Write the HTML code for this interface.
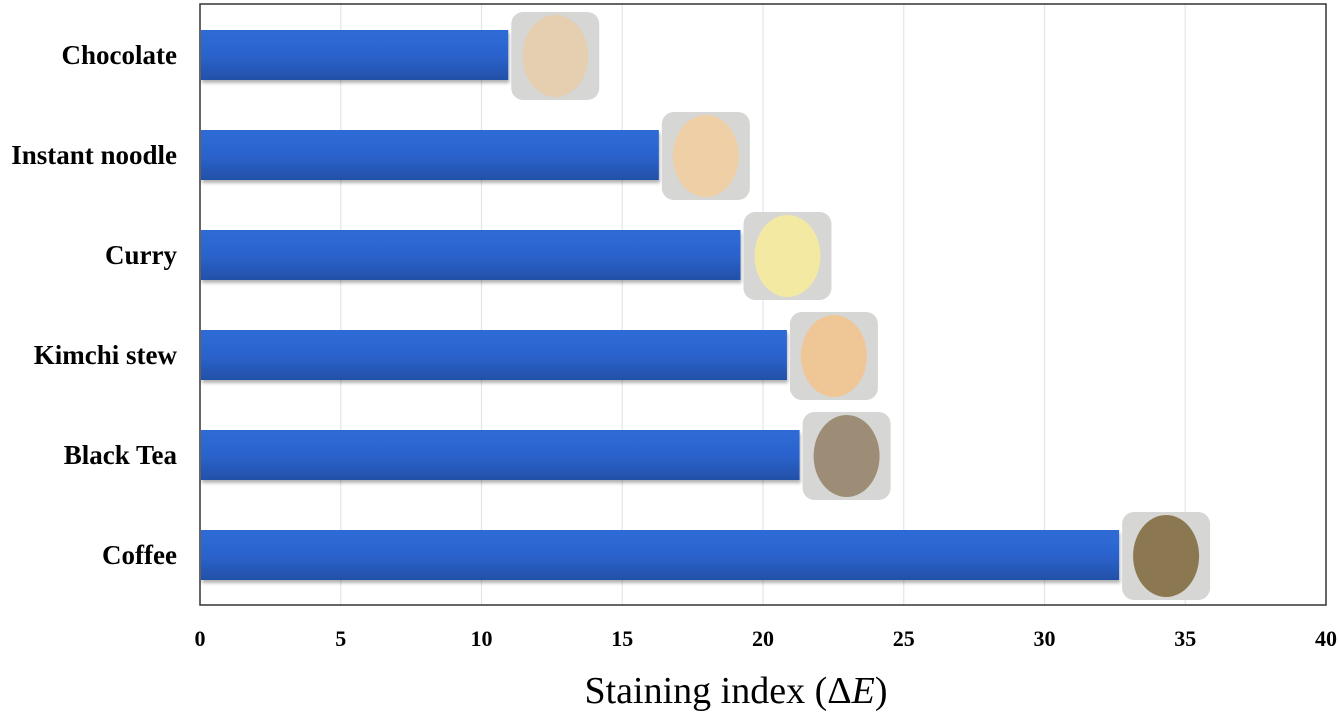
<!DOCTYPE html>
<html><head><meta charset="utf-8"><style>
html,body{margin:0;padding:0;background:#fff;}
svg{display:block;}
</style></head><body>
<svg id="chart" width="1339" height="712" viewBox="0 0 1339 712" xmlns="http://www.w3.org/2000/svg">
<defs>
<linearGradient id="barGrad" x1="0" y1="0" x2="0" y2="1">
<stop offset="0" stop-color="#2f6bd6"/>
<stop offset="0.5" stop-color="#2b63cc"/>
<stop offset="1" stop-color="#2350a8"/>
</linearGradient>
<filter id="shadow" x="-5%" y="-20%" width="110%" height="150%">
<feDropShadow dx="1" dy="3" stdDeviation="1.5" flood-color="#000" flood-opacity="0.3"/>
</filter>
</defs>
<g id="grid"></g>
<g id="bars"></g>
<g id="thumbs"></g>
<rect x="200" y="4" width="1126" height="601" fill="none" stroke="#333" stroke-width="1.5"/>
<g id="ylabels"></g>
<g id="xlabels"></g>
<text x="736" y="703" text-anchor="middle" font-family="Liberation Serif, serif" font-size="38">Staining index (Δ<tspan font-style="italic">E</tspan>)</text>
</svg>
<script>
const categories = ["Chocolate","Instant noodle","Curry","Kimchi stew","Black Tea","Coffee"];
const values = [10.95,16.3,19.2,20.85,21.3,32.65];
const sampleColors = ["#e6ceb0","#efcfa6","#f3e9a2","#efc797","#9d8d76","#8c7850"];
const xTicks = [0,5,10,15,20,25,30,35,40];

const NS="http://www.w3.org/2000/svg";
const x0=200,x1=1326,xmax=40;
function xs(v){return x0+(v/xmax)*(x1-x0);}
function yc(i){return 55+i*100;}
function mk(tag,attrs,parent){const e=document.createElementNS(NS,tag);for(const k in attrs)e.setAttribute(k,attrs[k]);parent.appendChild(e);return e;}
const grid=document.getElementById('grid'),bars=document.getElementById('bars'),thumbs=document.getElementById('thumbs'),yl=document.getElementById('ylabels'),xl=document.getElementById('xlabels');
xTicks.forEach(t=>{
  if(t>0&&t<xmax){const g=mk('line',{x1:xs(t),x2:xs(t),y1:4,y2:605,stroke:'#dfe6ea','stroke-width':1.2},grid);
  
  }
  const tx=mk('text',{x:xs(t),y:646,'text-anchor':'middle','font-family':'Liberation Serif, serif','font-weight':'bold','font-size':22},xl);
  tx.textContent=t;
  
  
});
categories.forEach((c,i)=>{
  const y=yc(i);
  const b=mk('rect',{x:x0+1,y:y-25,width:xs(values[i])-x0-1,height:50,fill:'url(#barGrad)',filter:'url(#shadow)'},bars);
  
  
  const tx0=xs(values[i])+3;
  const g=mk('g',{},thumbs);
  
  
  mk('rect',{x:tx0,y:y-43,width:88,height:88,rx:12,fill:'#d6d6d4'},g);
  mk('ellipse',{cx:tx0+44,cy:y+1,rx:33,ry:41,fill:sampleColors[i]},g);
  const lb=mk('text',{x:177,y:y+9,'text-anchor':'end','font-family':'Liberation Serif, serif','font-weight':'bold','font-size':27},yl);
  lb.textContent=c;
  
  
});
</script>
</body></html>
